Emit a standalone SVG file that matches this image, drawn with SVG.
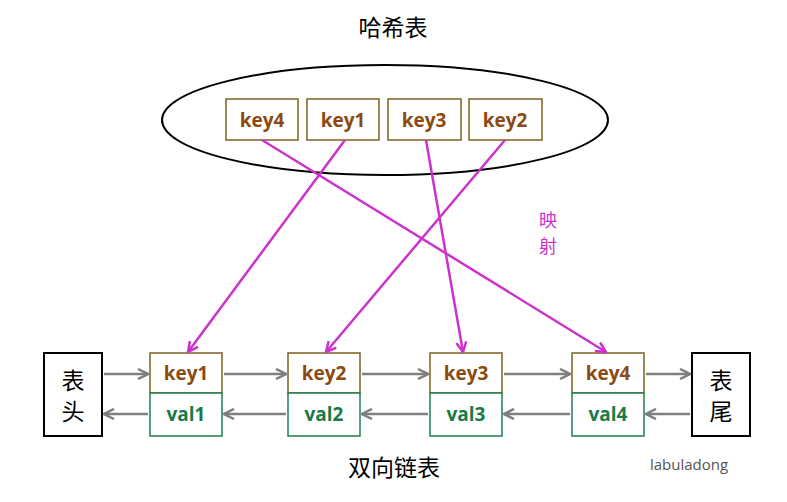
<svg xmlns="http://www.w3.org/2000/svg" width="787" height="502" viewBox="0 0 787 502">
<defs>
<marker id="ag" viewBox="0 0 10 10" refX="9" refY="5" markerWidth="5" markerHeight="5" orient="auto"><path d="M1,1 L9,5 L1,9" fill="none" stroke="#7f7f7f" stroke-width="2"/></marker>
<marker id="am" viewBox="0 0 10 10" refX="9" refY="5" markerWidth="5" markerHeight="5" orient="auto"><path d="M1,1 L9,5 L1,9" fill="none" stroke="#cc33cc" stroke-width="2"/></marker>
</defs>
<style>
.k{fill:#fff;stroke:#7f5f1f;stroke-width:1.5}
.v{fill:#fff;stroke:#1f7f4f;stroke-width:1.5}
.kt{font-family:"Open Sans","Liberation Sans",sans-serif;font-weight:bold;font-size:19px;fill:#8b4a10;text-anchor:middle}
.vt{font-family:"Open Sans","Liberation Sans",sans-serif;font-weight:bold;font-size:19px;fill:#1a7a4a;text-anchor:middle}
.cn{font-family:"Noto Sans CJK SC",sans-serif;font-size:23px;fill:#000;text-anchor:middle}
.g{stroke:#7f7f7f;stroke-width:2.5;fill:none;marker-end:url(#ag)}
.m{stroke:#cc33cc;stroke-width:2.5;fill:none;marker-end:url(#am)}
</style>
<rect width="787" height="502" fill="#fff"/>
<text class="cn" x="393" y="36">哈希表</text>
<g id="hashtable">
<ellipse cx="385" cy="120" rx="223" ry="55" fill="none" stroke="#000" stroke-width="2"/>
<rect class="k" x="226" y="99" width="72" height="41"/><text class="kt" x="262" y="127">key4</text>
<rect class="k" x="307" y="99" width="72" height="41"/><text class="kt" x="343" y="127">key1</text>
<rect class="k" x="388" y="99" width="73" height="41"/><text class="kt" x="424" y="127">key3</text>
<rect class="k" x="469" y="99" width="73" height="41"/><text class="kt" x="505" y="127">key2</text>
</g>
<g id="head"><rect x="44" y="353" width="58" height="83" fill="#fff" stroke="#000" stroke-width="2"/><text class="cn" x="73" y="389">表</text><text class="cn" x="73" y="420">头</text></g>
<g id="tail"><rect x="692" y="353" width="58" height="83" fill="#fff" stroke="#000" stroke-width="2"/><text class="cn" x="721" y="389">表</text><text class="cn" x="721" y="420">尾</text></g>
<g id="n1"><rect class="k" x="150" y="353" width="72" height="40"/><text class="kt" x="186" y="380">key1</text><rect class="v" x="150" y="393" width="72" height="43"/><text class="vt" x="186" y="421">val1</text></g>
<g id="n2"><rect class="k" x="288" y="353" width="72" height="40"/><text class="kt" x="324" y="380">key2</text><rect class="v" x="288" y="393" width="72" height="43"/><text class="vt" x="324" y="421">val2</text></g>
<g id="n3"><rect class="k" x="430" y="353" width="72" height="40"/><text class="kt" x="466" y="380">key3</text><rect class="v" x="430" y="393" width="72" height="43"/><text class="vt" x="466" y="421">val3</text></g>
<g id="n4"><rect class="k" x="572" y="353" width="72" height="40"/><text class="kt" x="608" y="380">key4</text><rect class="v" x="572" y="393" width="72" height="43"/><text class="vt" x="608" y="421">val4</text></g>
<g id="connectors">
<path class="g" d="M104,374 H148"/><path class="g" d="M224,374 H286"/><path class="g" d="M362,374 H428"/><path class="g" d="M504,374 H570"/><path class="g" d="M646,374 H690"/>
<path class="g" d="M148,414 H104"/><path class="g" d="M286,414 H224"/><path class="g" d="M428,414 H362"/><path class="g" d="M570,414 H504"/><path class="g" d="M690,414 H646"/>
<path class="m" d="M262,140 L606,352"/>
<path class="m" d="M345,140 L188,352"/>
<path class="m" d="M426,140 L463,352"/>
<path class="m" d="M505,140 L326,352"/>
</g>
<text x="548" y="227" font-family="Noto Sans CJK SC,sans-serif" font-size="18" fill="#cc33cc" text-anchor="middle">映</text>
<text x="548" y="253" font-family="Noto Sans CJK SC,sans-serif" font-size="18" fill="#cc33cc" text-anchor="middle">射</text>
<text class="cn" x="394" y="476">双向链表</text>
<text x="650" y="470" font-family="Open Sans,sans-serif" font-size="15" fill="#555">labuladong</text>
</svg>
